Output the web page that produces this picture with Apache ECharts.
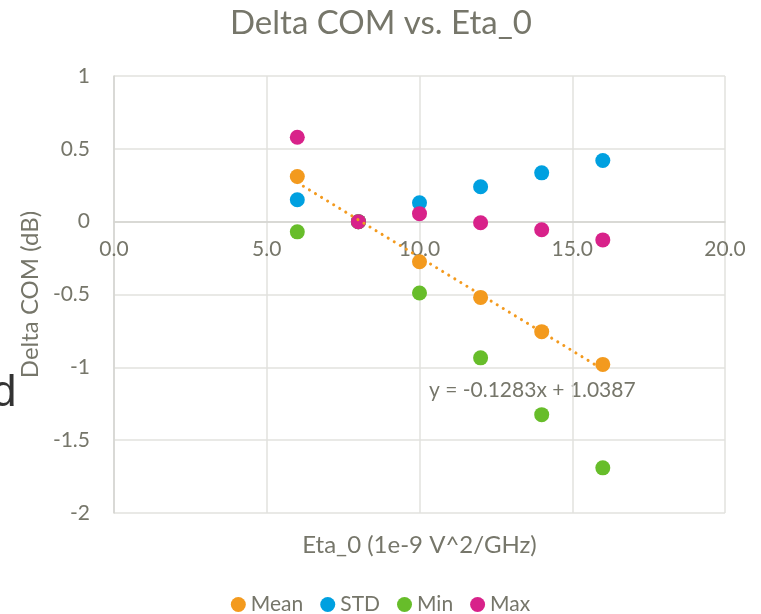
<!DOCTYPE html>
<html>
<head>
<meta charset="utf-8">
<script src="https://cdn.jsdelivr.net/npm/echarts@6/dist/echarts.min.js"></script>
<style>
html,body{margin:0;padding:0;background:#fff;}
#c{width:761px;height:614px;}
</style>
</head>
<body>
<div id="c"></div>
<script>
// ---- data ----
var etaValues = [6, 8, 10, 12, 14, 16];
var meanValues = [0.31, 0.0, -0.275, -0.52, -0.755, -0.98];
var stdValues = [0.15, 0.0, 0.13, 0.24, 0.335, 0.42];
var minValues = [-0.07, 0.0, -0.49, -0.935, -1.325, -1.69];
var maxValues = [0.58, 0.0, 0.055, -0.007, -0.055, -0.125];
var trendSlope = [-0.1283];
var trendIntercept = [1.0387];
var seriesNames = ['Mean', 'STD', 'Min', 'Max'];
var xTickLabels = ['0.0', '5.0', '10.0', '15.0', '20.0'];

var textColor = '#76766A';
var fontFam = 'Lato, "Open Sans", sans-serif';
var colors = ['#F39A1E', '#00A0E0', '#67BD2A', '#D8228A'];

function pairs(xs, ys) { return xs.map(function (x, i) { return [x, ys[i]]; }); }

var trendX = [etaValues[0], etaValues[etaValues.length - 1]];
var trendData = trendX.map(function (x) { return [x, trendSlope[0] * x + trendIntercept[0]]; });

var chart = echarts.init(document.getElementById('c'), null, {renderer: 'canvas'});
var dataSets = [meanValues, stdValues, minValues, maxValues];
var series = seriesNames.map(function (n, i) {
  return {
    name: n, type: 'scatter', data: pairs(etaValues, dataSets[i]),
    symbol: 'circle', symbolSize: 15, itemStyle: {color: colors[i], opacity: 1},
    z: 3 + i
  };
});
series.push({
  name: 'trend', type: 'line', data: trendData, symbol: 'none', silent: true,
  lineStyle: {color: colors[0], width: 3, type: [0.1, 7], cap: 'round'}, z: 10
});

var gridTop = 76, gridBottomPx = 513;
var zeroPx = 222;

chart.setOption({
  animation: false,
  textStyle: {fontFamily: fontFam},
  title: {
    text: 'Delta COM vs. Eta_0', left: 225, top: 2,
    textStyle: {color: textColor, fontSize: 33, fontWeight: 'normal', fontFamily: fontFam}
  },
  grid: {left: 114, right: 36, top: gridTop, bottom: 614 - gridBottomPx, containLabel: false, outerBoundsMode: 'none'},
  legend: {
    data: seriesNames, bottom: -6, left: 'center', icon: 'circle', itemWidth: 15, itemHeight: 15,
    itemGap: 17, textStyle: {color: textColor, fontSize: 21, fontFamily: fontFam, padding: [0, 0, 0, 0]}
  },
  xAxis: {
    type: 'value', min: 0, max: 20, interval: 5, position: 'bottom',
    offset: -(gridBottomPx - zeroPx),
    name: 'Eta_0 (1e-9 V^2/GHz)', nameLocation: 'middle', nameGap: 311,
    nameTextStyle: {color: textColor, fontSize: 24, fontFamily: fontFam},
    axisLine: {show: true, onZero: false, lineStyle: {color: '#D4D4D0', width: 1.5}},
    axisTick: {show: false},
    axisLabel: {color: textColor, fontSize: 21, margin: 17, formatter: function (v) { return xTickLabels[Math.round(v / 5)]; }},
    splitLine: {show: true, lineStyle: {color: '#E2E2DE', width: 1.5}}
  },
  yAxis: {
    type: 'value', min: -2, max: 1, interval: 0.5,
    name: 'Delta COM (dB)', nameLocation: 'middle', nameGap: 71,
    nameTextStyle: {color: textColor, fontSize: 24, fontFamily: fontFam},
    axisLine: {show: true, lineStyle: {color: '#D4D4D0', width: 1.5}},
    axisTick: {show: false},
    axisLabel: {color: textColor, fontSize: 21, margin: 24},
    splitLine: {show: true, lineStyle: {color: '#E2E2DE', width: 1.5}}
  },
  graphic: [
    {type: 'text', left: 429, top: 380, style: {text: 'y = ' + trendSlope[0] + 'x + ' + trendIntercept[0], fill: textColor, fontSize: 21, fontFamily: fontFam}},
    {type: 'text', x: -8, y: 416, style: {text: 'd', fill: '#333333', fontSize: 44, fontFamily: '"Liberation Sans", Arial, sans-serif', textVerticalAlign: 'bottom', verticalAlign: 'bottom'}}
  ],
  series: series
});
</script>
</body>
</html>
